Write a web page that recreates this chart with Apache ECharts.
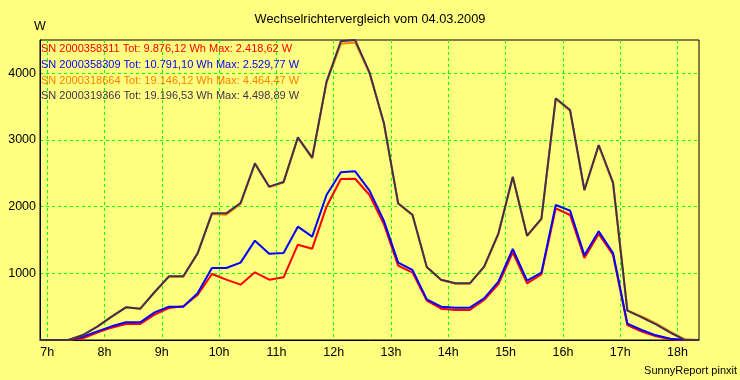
<!DOCTYPE html>
<html>
<head>
<meta charset="utf-8">
<script src="https://cdn.jsdelivr.net/npm/echarts@6/dist/echarts.min.js"></script>
<style>
html,body{margin:0;padding:0;background:#ffff80;}
#chart{width:740px;height:380px;}
</style>
</head>
<body>
<div id="chart"></div>
<script>
// Time of each 15-minute value (hours, interval midpoints)
var times = [6.875, 7.125, 7.375, 7.625, 7.875, 8.125, 8.375, 8.625, 8.875, 9.125,
  9.375, 9.625, 9.875, 10.125, 10.375, 10.625, 10.875, 11.125, 11.375, 11.625,
  11.875, 12.125, 12.375, 12.625, 12.875, 13.125, 13.375, 13.625, 13.875, 14.125,
  14.375, 14.625, 14.875, 15.125, 15.375, 15.625, 15.875, 16.125, 16.375, 16.625,
  16.875, 17.125, 17.375, 17.625, 17.875, 18.125, 18.375];

// Power in W per inverter
var sn358311 = [0, 0, 0, 25, 110, 185, 240, 240, 380, 480,
  505, 675, 990, 905, 830, 1015, 905, 940, 1430, 1370,
  2000, 2415, 2419, 2175, 1740, 1115, 1010, 590, 470, 450,
  450, 600, 840, 1310, 850, 985, 1975, 1875, 1230, 1590,
  1275, 225, 125, 55, 10, 0, 0];
var sn358309 = [0, 0, 0, 50, 130, 205, 265, 265, 415, 500,
  500, 700, 1080, 1080, 1160, 1490, 1295, 1305, 1700, 1550,
  2175, 2515, 2530, 2240, 1790, 1160, 1050, 610, 500, 485,
  485, 625, 875, 1365, 890, 1010, 2025, 1940, 1270, 1630,
  1305, 245, 150, 70, 20, 0, 0];
var sn318664 = [0, 0, 0, 75, 200, 350, 490, 470, 715, 950,
  950, 1295, 1890, 1880, 2040, 2640, 2295, 2360, 3030, 2725,
  3860, 4445, 4464, 4000, 3250, 2045, 1870, 1090, 900, 845,
  845, 1095, 1590, 2440, 1560, 1810, 3615, 3440, 2245, 2915,
  2350, 445, 355, 250, 125, 10, 0];
var sn319366 = [0, 0, 0, 75, 200, 350, 490, 470, 720, 955,
  955, 1300, 1900, 1900, 2055, 2650, 2300, 2370, 3040, 2735,
  3875, 4480, 4499, 4015, 3260, 2050, 1880, 1095, 905, 850,
  850, 1100, 1600, 2450, 1565, 1820, 3625, 3450, 2250, 2925,
  2360, 440, 340, 235, 110, 0, 0];

var serials = ['2000358311', '2000358309', '2000318664', '2000319366'];
var totals = ['9.876,12', '10.791,10', '19.146,12', '19.196,53'];
var maxima = ['2.418,62', '2.529,77', '4.464,47', '4.498,89'];
var colors = ['#ff0000', '#0000ff', '#ff8000', '#403050'];
var values = [sn358311, sn358309, sn318664, sn319366];

var xTicks = [7, 8, 9, 10, 11, 12, 13, 14, 15, 16, 17, 18];
var yTicks = [1000, 2000, 3000, 4000];

var FONT = '"Liberation Sans", Arial, sans-serif';
var chart = echarts.init(document.getElementById('chart'), null, {renderer: 'canvas'});

var series = values.map(function (vals, i) {
  return {
    type: 'line',
    name: 'SN ' + serials[i],
    data: vals.map(function (v, j) { return [times[j], v]; }),
    symbol: 'none',
    lineStyle: {color: colors[i], width: 2},
    itemStyle: {color: colors[i]},
    animation: false
  };
});

var legendTexts = serials.map(function (s, i) {
  return {
    type: 'text',
    left: 41,
    top: 43.5 + i * 15.8,
    style: {
      text: 'SN ' + s + ' Tot: ' + totals[i] + ' Wh Max: ' + maxima[i] + ' W',
      fill: colors[i],
      font: '11px ' + FONT
    },
    z: 100
  };
});

chart.setOption({
  backgroundColor: '#ffff80',
  animation: false,
  textStyle: {fontFamily: FONT},
  grid: {left: 40, top: 40, right: 41, bottom: 40, show: true, borderColor: '#000', borderWidth: 1, backgroundColor: 'transparent'},
  xAxis: {
    type: 'value',
    min: 6.875,
    max: 18.375,
    axisLine: {show: true, lineStyle: {color: '#000', width: 1}},
    axisTick: {show: false, customValues: xTicks},
    axisLabel: {customValues: xTicks, color: '#000', fontSize: 12.5, fontFamily: FONT, margin: 6,
      formatter: function (v) { return v + 'h'; }},
    splitLine: {show: true, lineStyle: {color: '#00ff00', type: [3, 3], width: 1}}
  },
  yAxis: {
    type: 'value',
    min: 0,
    max: 4500,
    axisLine: {show: true, lineStyle: {color: '#000', width: 1}},
    axisTick: {show: false, customValues: yTicks},
    axisLabel: {customValues: yTicks, color: '#000', fontSize: 12.5, fontFamily: FONT, margin: 4,
      formatter: function (v) { return String(v); }},
    splitLine: {show: true, lineStyle: {color: '#00ff00', type: [3, 3], width: 1}}
  },
  graphic: [
    {type: 'text', left: 'center', top: 13, style: {text: 'Wechselrichtervergleich vom 04.03.2009', fill: '#000', font: '12.8px ' + FONT}},
    {type: 'text', left: 34, top: 20, style: {text: 'W', fill: '#000', font: '12.5px ' + FONT}},
    {type: 'text', right: 3, top: 365, style: {text: 'SunnyReport pinxit', fill: '#000', font: '11px ' + FONT}}
  ].concat(legendTexts),
  series: series
});
</script>
</body>
</html>
